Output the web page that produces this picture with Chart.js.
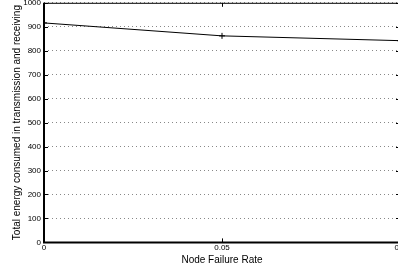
<!DOCTYPE html>
<html>
<head>
<meta charset="utf-8">
<script src="https://cdn.jsdelivr.net/npm/chart.js@4/dist/chart.umd.min.js"></script>
<style>
html, body { margin: 0; padding: 0; background: #fff; overflow: hidden; width: 398px; height: 268px; }
#wrap { position: absolute; left: 0; top: -5px; width: 420px; height: 271px; }
</style>
</head>
<body>
<div id="wrap"><canvas id="chart"></canvas></div>
<script>
const failureRates = [0, 0.05, 0.1];
const energy = [916, 862, 842];
const xTicks = [0, 0.05, 0.1];
const yTicks = [0, 100, 200, 300, 400, 500, 600, 700, 800, 900, 1000];

// box around the plot area, with small inward ticks on the top and right sides
const boxPlugin = {
    id: 'box',
    afterDraw(chart) {
        const ctx = chart.ctx;
        const a = chart.chartArea;
        const ys = chart.scales.y;
        const xs = chart.scales.x;
        ctx.save();
        ctx.strokeStyle = '#000';
        ctx.lineWidth = 1;
        ctx.beginPath();
        ctx.moveTo(a.left, a.top + 0.5);
        ctx.lineTo(a.right, a.top + 0.5);
        ctx.moveTo(a.right - 0.5, a.top);
        ctx.lineTo(a.right - 0.5, a.bottom);
        for (const v of yTicks) {
            const py = Math.round(ys.getPixelForValue(v)) + 0.5;
            ctx.moveTo(a.left, py);
            ctx.lineTo(a.left + 4, py);
            ctx.moveTo(a.right, py);
            ctx.lineTo(a.right - 4, py);
        }
        for (const v of xTicks) {
            const px = Math.round(xs.getPixelForValue(v)) + 0.5;
            ctx.moveTo(px, a.bottom);
            ctx.lineTo(px, a.bottom - 4);
            ctx.moveTo(px, a.top);
            ctx.lineTo(px, a.top + 4);
        }
        ctx.stroke();
        ctx.lineWidth = 2;
        ctx.beginPath();
        ctx.moveTo(a.left, a.top);
        ctx.lineTo(a.left, a.bottom);
        ctx.lineTo(a.right, a.bottom);
        ctx.stroke();
        ctx.restore();
    }
};

let ctx = document.getElementById('chart').getContext('2d');
let myChart = new Chart(ctx, {
    type: 'line',
    data: {
        datasets: [{
            data: failureRates.map((x, i) => ({x: x, y: energy[i]})),
            borderColor: '#000',
            borderWidth: 1,
            pointStyle: 'cross',
            pointRadius: 3,
            pointBorderColor: '#000',
            pointBorderWidth: 1,
            tension: 0,
            fill: false
        }]
    },
    plugins: [boxPlugin],
    options: {
        responsive: true,
        maintainAspectRatio: false,
        animation: false,
        layout: { padding: { top: 0, right: 20, left: 0, bottom: 0 } },
        plugins: {
            legend: { display: false },
            tooltip: { enabled: false }
        },
        scales: {
            x: {
                type: 'linear',
                min: 0,
                max: 0.1,
                afterBuildTicks: (scale) => { scale.ticks = xTicks.map(v => ({value: v})); },
                ticks: {
                    color: '#000',
                    font: { family: 'Liberation Sans', size: 8 },
                    padding: 1,
                    maxRotation: 0,
                    callback: (v) => String(v)
                },
                grid: { display: false, drawTicks: false },
                border: { display: false },
                title: {
                    display: true,
                    text: 'Node Failure Rate',
                    color: '#000',
                    font: { family: 'Liberation Sans', size: 10 },
                    padding: { top: 0, bottom: 0 }
                }
            },
            y: {
                min: 0,
                max: 1000,
                afterBuildTicks: (scale) => { scale.ticks = yTicks.map(v => ({value: v})); },
                afterFit: (scale) => { scale.width = 44; },
                ticks: {
                    color: '#000',
                    font: { family: 'Liberation Sans', size: 8 },
                    padding: 3,
                    callback: (v) => String(v)
                },
                grid: { color: '#888', lineWidth: 1, drawTicks: false },
                border: { display: false, dash: [1, 3] },
                title: {
                    display: true,
                    text: 'Total energy consumed in transmission and receiving',
                    color: '#000',
                    font: { family: 'Liberation Sans', size: 10 },
                    padding: { top: 11, bottom: 0 }
                }
            }
        }
    }
});
</script>
</body>
</html>
